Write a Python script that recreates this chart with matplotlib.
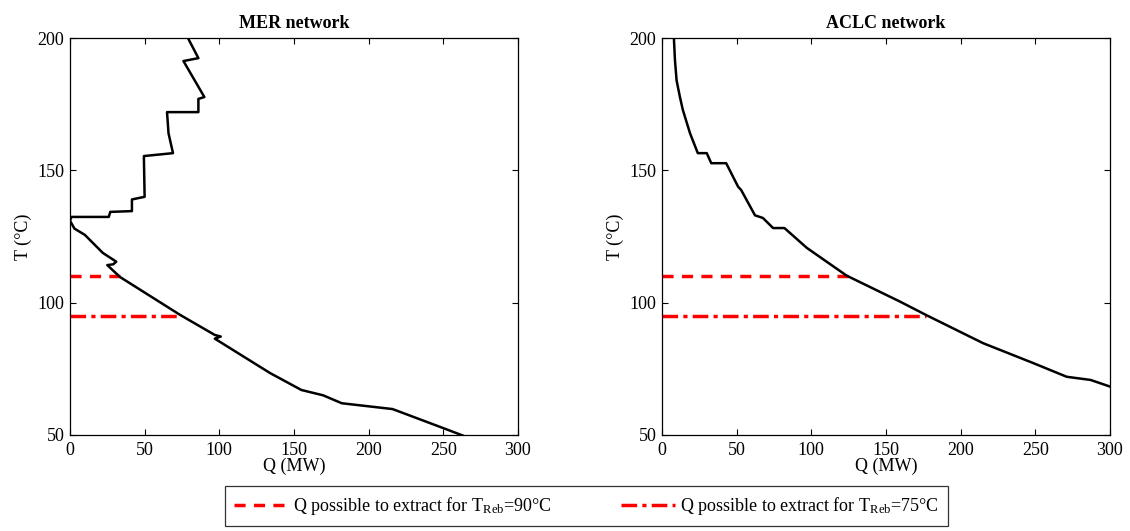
import matplotlib
matplotlib.use("Agg")
import matplotlib.pyplot as plt
from matplotlib.lines import Line2D

plt.rcParams['font.family'] = ['Liberation Serif', 'DejaVu Serif']
plt.rcParams['mathtext.fontset'] = 'custom'
plt.rcParams['mathtext.rm'] = 'Liberation Serif'
plt.rcParams['mathtext.it'] = 'Liberation Serif:italic'

# Grand composite curve, MER network (Q in MW, T in degC)
mer_q = [79, 86, 76, 90, 86, 86, 65, 66, 69, 49.5, 50, 41.5, 41.5, 27, 26, 1, 0,
         3, 10, 22, 31, 29, 25, 33.5, 73.7, 97, 101, 97, 134, 155, 169.5, 182,
         216, 250, 263]
mer_t = [200, 192.4, 191.3, 177.7, 177, 172, 172, 164, 156.5, 155.4, 140, 139,
         134.6, 134.3, 132.4, 132.4, 131, 128, 125.6, 118.8, 115.5, 114.5, 114.2,
         109.7, 95.4, 87.8, 87.2, 86.4, 73.4, 67, 65, 62, 59.8, 52.6, 49.8]

# Grand composite curve, ACLC network
aclc_q = [8, 8.7, 9.8, 12, 14, 18.8, 24, 30, 33, 43, 51, 53, 62.3, 67.6, 74.4,
          82, 97, 123.7, 159.4, 177, 215, 248.5, 271, 287, 300]
aclc_t = [200, 191.7, 184, 177.8, 172.8, 164, 156.5, 156.5, 152.7, 152.7, 143.8,
          142.6, 133, 132, 128.2, 128.2, 120.7, 110.2, 100.4, 95.3, 84.7, 77.2,
          72, 70.8, 68.3]

# Reboiler temperature levels and extractable duty
t_reb_levels = [110, 95]
mer_q_extract = [33.5, 73.7]
aclc_q_extract = [125, 177]

dash_style = (0, (3.2, 2.4))
dashdot_style = (0, (4.5, 1.5, 1.2, 1.5))

fig = plt.figure(figsize=(11.3, 5.31), dpi=100)
ax1 = fig.add_axes([0.0619, 0.1808, 0.3965, 0.7476])
ax2 = fig.add_axes([0.5858, 0.1808, 0.3965, 0.7476])

panels = [
    (ax1, mer_q, mer_t, mer_q_extract, 'MER network'),
    (ax2, aclc_q, aclc_t, aclc_q_extract, 'ACLC network'),
]

for ax, q, t, q_ext, title in panels:
    ax.plot(q, t, color='black', lw=1.8, zorder=3)
    ax.plot([0, q_ext[0]], [t_reb_levels[0], t_reb_levels[0]], color='red',
            lw=2.5, linestyle=dash_style, zorder=2)
    ax.plot([0, q_ext[1]], [t_reb_levels[1], t_reb_levels[1]], color='red',
            lw=2.5, linestyle=dashdot_style, zorder=2)
    ax.set_xlim(0, 300)
    ax.set_ylim(50, 200)
    ax.set_xticks([0, 50, 100, 150, 200, 250, 300])
    ax.set_yticks([50, 100, 150, 200])
    ax.tick_params(direction='in', top=True, right=True, labelsize=13,
                   length=4, width=0.8)
    ax.tick_params(axis='x', pad=5)
    ax.tick_params(axis='y', pad=4)
    for s in ax.spines.values():
        s.set_linewidth(0.9)
    ax.set_xlabel('Q (MW)', fontsize=13, labelpad=-1)
    ax.set_ylabel('T (°C)', fontsize=13, labelpad=4)
    ax.set_title(title, fontsize=13, fontweight='bold', pad=7)

handles = [
    Line2D([], [], color='red', lw=2.5, linestyle=dash_style),
    Line2D([], [], color='red', lw=2.5, linestyle=dashdot_style),
]
labels = [r'Q possible to extract for T$_{\mathrm{Reb}}$=90°C',
          r'Q possible to extract for T$_{\mathrm{Reb}}$=75°C']
leg = fig.legend(handles, labels, loc='center', bbox_to_anchor=(0.519, 0.047),
                 ncol=2, fontsize=13, frameon=True, fancybox=False,
                 handlelength=3.0, columnspacing=3.8, handletextpad=0.3,
                 borderpad=0.5, borderaxespad=0)
leg.get_frame().set_edgecolor('black')
leg.get_frame().set_linewidth(0.9)

fig.savefig('out.png', dpi=100)
